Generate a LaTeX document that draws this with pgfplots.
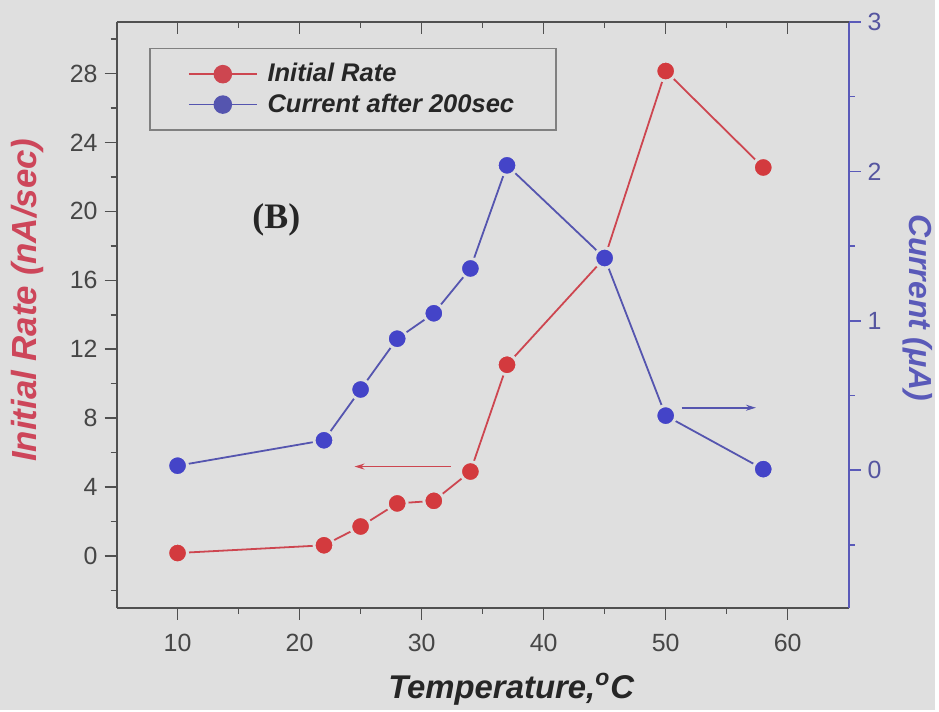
\documentclass[border=0pt]{standalone}
\usepackage{fontspec}
\setmainfont{Liberation Sans}
\newfontfamily\timesfont{Liberation Serif}
\usepackage{pgfplots}
\pgfplotsset{compat=1.18}
\usetikzlibrary{backgrounds,arrows.meta}
\definecolor{bgc}{RGB}{223,223,223}
\definecolor{redm}{RGB}{211,58,62}
\definecolor{redline}{RGB}{205,70,80}
\definecolor{bluem}{RGB}{68,68,200}
\definecolor{blueline}{RGB}{85,85,175}
\definecolor{axgray}{RGB}{80,80,80}
\definecolor{tickgray}{RGB}{70,70,70}
\definecolor{blueax}{RGB}{90,90,185}
\definecolor{bluetick}{RGB}{85,85,160}
\definecolor{redlab}{RGB}{205,70,90}
\begin{document}
\begin{tikzpicture}
\pgfplotsset{
  common/.style={
    scale only axis, width=367.5pt, height=294pt,
    xmin=5, xmax=65,
    /pgf/number format/assume math mode=true,
    tick label style={font=\fontsize{12.5}{14}\selectfont},
    xticklabel style={yshift=-3.5pt},
    major tick length=6pt, minor tick length=3pt,
    legend image code/.code={
      \draw[##1, mark=none] (0pt,0pt) -- (34pt,0pt);
      \draw[##1, only marks, mark size=4.2pt, mark options={draw=none}] plot coordinates {(17pt,0pt)};
    },
  },
  redplot/.style={color=redline, line width=0.9pt, mark=*, mark size=5pt,
    mark options={fill=redm, draw=bgc, line width=1.5pt}},
  blueplot/.style={color=blueline, line width=0.9pt, mark=*, mark size=5pt,
    mark options={fill=bluem, draw=bgc, line width=1.5pt}},
}
% left axis (Initial Rate)
\begin{axis}[common, name=a1,
  ymin=-3, ymax=31,
  axis x line*=bottom, axis y line*=left,
  axis line style={line width=1pt, draw=axgray, -},
  tick align=outside,
  tick style={draw=axgray, line width=0.8pt},
  xtick={10,20,...,60}, minor xtick={15,25,...,55},
  ytick={0,4,...,28}, minor ytick={-2,2,...,30},
  tick label style={text=tickgray},
  xlabel={\bfseries\itshape Temperature,\textsuperscript{o}C},
  ylabel={\bfseries\itshape Initial Rate (nA/sec)},
  every axis x label/.style={at={(axis description cs:0.539,-0.139)}, anchor=center,
    font=\fontsize{16.5}{18}\selectfont, text=black!85},
  every axis y label/.style={at={(axis description cs:-0.122,0.525)}, anchor=center, rotate=90,
    font=\fontsize{17.5}{19}\selectfont, text=redlab},
]
\addplot[redplot] coordinates {
  (10,0.17) (22,0.62) (25,1.71) (28,3.05) (31,3.2) (34,4.9) (37,11.1) (45,17.3) (50,28.15) (58,22.55)
};
\draw[redline, line width=0.9pt, -{Stealth[length=5pt,width=3pt]}] (axis cs:32.4,5.19) -- (axis cs:24.5,5.19);
\node[font=\fontsize{18}{20}\selectfont\timesfont\bfseries, text=black!85] at (axis cs:18.1,19.5) {(B)};
\end{axis}
% right axis (Current)
\begin{axis}[common,
  ymin=-0.92, ymax=3,
  axis x line=none, axis y line*=right,
  axis line style={line width=1pt, draw=blueax, -},
  tick align=outside,
  tick style={draw=blueax, line width=0.8pt},
  ytick={0,1,2,3}, minor ytick={-0.5,0.5,1.5,2.5},
  tick label style={text=bluetick},
  ylabel={\bfseries\itshape Current (μA)},
  every axis y label/.style={at={(axis description cs:1.094,0.512)}, anchor=center, rotate=-90,
    font=\fontsize{16}{18}\selectfont, text=blueax},
  legend style={at={(axis description cs:0.0449,0.956)}, anchor=north west,
    draw=gray, line width=0.8pt, fill=none, font=\fontsize{12.8}{15}\selectfont\bfseries\itshape,
    text=black!85, inner xsep=19pt, inner ysep=5.5pt, row sep=0.5pt},
  legend cell align=left,
]
\addlegendimage{redplot}
\addlegendentry{\hspace{3pt}Initial Rate}
\addplot[blueplot] coordinates {
  (10,0.03) (22,0.20) (25,0.54) (28,0.88) (31,1.05) (34,1.35) (37,2.04) (45,1.42) (50,0.365) (58,0.007)
};
\addlegendentry{\hspace{3pt}Current after 200sec}
\draw[blueline, line width=0.9pt, -{Stealth[length=5pt,width=3pt]}] (axis cs:51.3,0.418) -- (axis cs:57.4,0.418);
\end{axis}
% top axis with inward ticks
\begin{axis}[common,
  ymin=0, ymax=1,
  axis x line*=top, axis y line=none,
  axis line style={line width=1pt, draw=axgray, -},
  tick align=inside,
  tick style={draw=axgray, line width=0.8pt},
  xtick={10,20,...,60}, minor xtick={15,25,...,55},
  xticklabels={},
]
\end{axis}
\begin{pgfonlayer}{background}
\fill[bgc] ([xshift=-58.5pt,yshift=-51.5pt]a1.south west) rectangle ++(469.5pt,356.5pt);
\end{pgfonlayer}
\end{tikzpicture}
\end{document}
